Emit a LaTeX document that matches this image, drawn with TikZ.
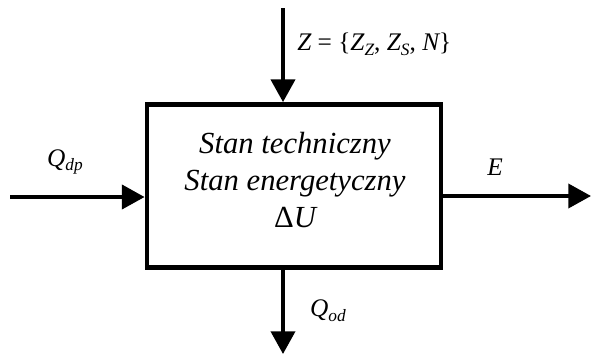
\documentclass[tikz,border=0pt]{standalone}
\usepackage{fontspec}
\setmainfont{Liberation Serif}[ItalicFont={Liberation Serif Italic}]
\usetikzlibrary{arrows.meta}
\newcommand{\subsc}[1]{\raisebox{-0.4ex}{\fontsize{13}{13}\selectfont\itshape #1}}
\begin{document}
\begin{tikzpicture}[x=0.75pt,y=-0.75pt,
  flow/.style={line width=2.8pt,-{Triangle[length=17pt,width=18pt]}},
  lbl/.style={font=\fontsize{19}{22}\selectfont\itshape, inner sep=0pt}]
\useasboundingbox (0,0) rectangle (591,354);
\node[draw, line width=3.6pt, minimum width=294*0.75pt, minimum height=163*0.75pt, inner sep=0pt] (box) at (294,186) {};
\node[font=\fontsize{23}{27.5}\selectfont\itshape, align=center, inner sep=0pt] (txt) at (295,180)
  {Stan techniczny\\Stan energetyczny\\{\upshape Δ}U};
\coordinate (ts) at (283,8);
\coordinate (ls) at (10,197);
\coordinate (re) at (591,196);
\coordinate (be) at (283,354);
\draw[flow] (ts) -- (ts |- box.north);
\draw[flow] (ls) -- (ls -| box.west);
\draw[flow] (box.east |- re) -- (re);
\draw[flow] (be |- box.south) -- (be);
\node[lbl, anchor=west] (zl) at (297,44) {Z {\upshape = \{}Z\subsc{Z}{\upshape ,} Z\subsc{S}{\upshape ,} N{\upshape \}}};
\node[lbl] (ql) at (65,162) {Q\subsc{dp}};
\node[lbl] (el) at (495,167) {E};
\node[lbl] (qo) at (328,311) {Q\subsc{od}};
\end{tikzpicture}
\end{document}
